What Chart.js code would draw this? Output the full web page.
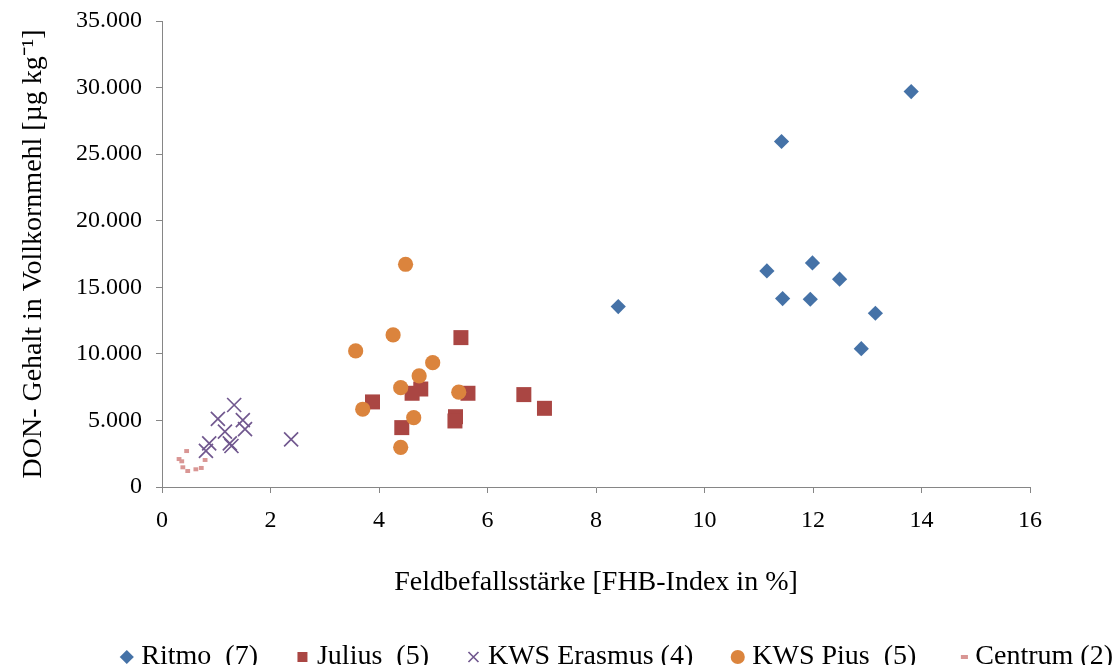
<!DOCTYPE html>
<html>
<head>
<meta charset="utf-8">
<script src="https://cdn.jsdelivr.net/npm/chart.js@4.4.1/dist/chart.umd.min.js"></script>
<style>
  html, body { margin: 0; padding: 0; background: #fff; }
</style>
</head>
<body>
<canvas id="chartDon" width="1120" height="665"></canvas>
<script>
// Feldbefallsstärke (FHB-Index in %) gegen DON-Gehalt (µg/kg) je Sorte
const ritmoX   = [13.81, 11.42, 11.15, 11.99, 12.49, 11.44, 11.95, 13.15, 12.89, 8.41];
const ritmoY   = [29700, 25950, 16230, 16830, 15610, 14150, 14100, 13050, 10390, 13550];

const juliusX  = [5.51, 4.77, 4.61, 3.88, 5.64, 6.67, 7.05, 5.41, 5.40, 4.42];
const juliusY  = [11220, 7360, 7040, 6390, 7040, 6940, 5910, 5280, 4960, 4460];

const erasmusX = [1.33, 1.03, 1.49, 1.53, 1.16, 0.87, 1.25, 1.28, 0.81, 2.38];
const erasmusY = [6160, 5110, 5030, 4340, 4160, 3280, 3280, 3080, 2710, 3580];

const piusX    = [4.49, 4.26, 3.57, 4.99, 4.74, 4.40, 5.47, 3.70, 4.64, 4.40];
const piusY    = [16730, 11420, 10220, 9340, 8340, 7460, 7120, 5840, 5210, 2980];

const centrumX = [0.41, 0.27, 0.32, 0.75, 0.34, 0.68, 0.58, 0.43];
const centrumY = [2700, 2100, 1930, 2030, 1480, 1430, 1330, 1200];

const sortenLabels = ["Ritmo  (7)", "Julius  (5)", "KWS Erasmus (4)", "KWS Pius  (5)", "Centrum (2)"];

const xTitle = "Feldbefallsstärke [FHB-Index in %]";
const yTitle = "DON- Gehalt in Vollkornmehl [µg kg⁻¹]";

const axisGrey = "#868686";
const legendGap = 44;

function pts(xs, ys){
  return xs.map((x, i) => ({ x, y: ys[i] }));
}

// 35000 -> "35.000"
function fmtThousand(v){
  return String(v).replace(/\B(?=(\d{3})+(?!\d))/g, ".");
}

Chart.defaults.font.family = "'Liberation Serif', 'Times New Roman', serif";
Chart.defaults.color = "#000";

new Chart(document.getElementById("chartDon"), {
  type: "scatter",
  data: {
    datasets: [
      { label: sortenLabels[0], data: pts(ritmoX, ritmoY), pointStyle: "rectRot", pointRadius: 7.6,
        backgroundColor: "#4572A7", borderColor: "#4572A7", borderWidth: 0, order: 1 },
      { label: sortenLabels[1], data: pts(juliusX, juliusY), pointStyle: "rect", pointRadius: 10.6,
        backgroundColor: "#AA4643", borderColor: "#AA4643", borderWidth: 0, order: 2 },
      { label: sortenLabels[2], data: pts(erasmusX, erasmusY), pointStyle: "crossRot", pointRadius: 9.9,
        backgroundColor: "#71588F", borderColor: "#71588F", borderWidth: 1.7, order: 1 },
      { label: sortenLabels[3], data: pts(piusX, piusY), pointStyle: "circle", pointRadius: 7.6,
        backgroundColor: "#DB843D", borderColor: "#DB843D", borderWidth: 0, order: 0 },
      { label: sortenLabels[4], data: pts(centrumX, centrumY), pointStyle: "dash", pointRadius: 4.8,
        backgroundColor: "#D99694", borderColor: "#D99694", borderWidth: 4, order: 1 }
    ]
  },
  options: {
    responsive: false,
    animation: false,
    layout: { padding: { top: 21, left: 0, right: -37, bottom: -16 } },
    plugins: {
      tooltip: { enabled: false },
      legend: {
        position: "bottom",
        align: "end",
        labels: {
          usePointStyle: true,
          boxWidth: 1,
          boxHeight: 10,
          padding: legendGap,
          font: { size: 28 },
          sort: (a, b) => a.datasetIndex - b.datasetIndex
        }
      }
    },
    scales: {
      x: {
        type: "linear",
        min: 0, max: 16,
        border: { color: axisGrey },
        grid: { drawOnChartArea: false, color: axisGrey, tickLength: 6 },
        ticks: { stepSize: 2, padding: 13, font: { size: 24 } },
        title: { display: true, text: xTitle, font: { size: 28 }, padding: 0 },
        afterFit: s => { s.height = 156 - legendGap; }
      },
      y: {
        min: 0, max: 35000,
        border: { color: axisGrey },
        grid: { drawOnChartArea: false, color: axisGrey, tickLength: 6 },
        ticks: { stepSize: 5000, padding: 14, font: { size: 24 }, callback: fmtThousand },
        title: { display: true, text: yTitle, font: { size: 28 }, padding: { top: 17, bottom: 0 } },
        afterFit: s => { s.width = 162; s.paddingTop = 0; }
      },
      // leerer Rand rechts neben der Zeichenfläche
      yRight: {
        position: "right",
        grid: { display: false },
        border: { display: false },
        ticks: { display: false },
        afterFit: s => { s.width = 127; }
      }
    }
  }
});
</script>
</body>
</html>
